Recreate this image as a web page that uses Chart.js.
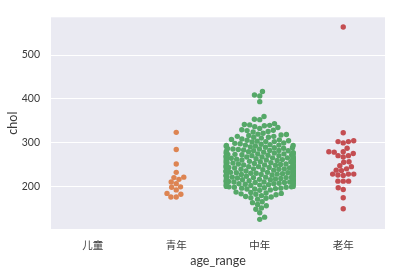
<!DOCTYPE html>
<html>
<head>
<meta charset="utf-8">
<script src="https://cdn.jsdelivr.net/npm/chart.js@4/dist/chart.umd.min.js"></script>
<style>
html,body{margin:0;padding:0;background:#fff;}
#wrap{width:397px;height:272px;position:relative;}
</style>
</head>
<body>
<div id="wrap"><canvas id="c" width="397" height="272"></canvas></div>
<script>
const categories = ['儿童', '青年', '中年', '老年'];
const childChol = [];
const youngChol = [324, 285, 252, 233, 222, 221, 217, 211, 207, 199, 200, 193, 185, 177, 177, 183];
const middleChol = [
  394, 407, 409, 417,
  353, 354, 360,
  340, 341, 342, 344,
  330, 333, 335, 337, 339,
  320, 322, 325, 326, 328, 329,
  311, 313, 315, 315, 318, 319, 313, 317,
  300, 302, 303, 304, 305, 306, 307, 308, 309, 303,
  290, 291, 293, 294, 295, 295, 297, 298, 299, 292, 294, 296,
  280, 281, 282, 283, 283, 284, 286, 286, 288, 289, 282, 285, 287, 289,
  270, 271, 271, 273, 273, 274, 274, 275, 275, 276, 277, 277, 278, 278, 279, 272, 270, 275,
  260, 261, 261, 262, 263, 263, 264, 264, 265, 266, 266, 267, 267, 268, 268, 269, 269, 260, 262, 265,
  250, 250, 252, 252, 253, 254, 254, 255, 256, 256, 257, 258, 258, 259, 250, 251, 253, 255, 257, 259,
  240, 240, 241, 242, 243, 243, 244, 245, 245, 246, 246, 247, 248, 248, 249, 249, 241, 243, 244, 246, 247, 245,
  230, 231, 231, 232, 233, 233, 234, 234, 235, 236, 236, 237, 237, 239, 239, 230, 232, 234, 235, 236, 238, 233,
  220, 221, 221, 222, 223, 224, 225, 226, 226, 227, 228, 229, 229, 220, 222, 223, 224, 225, 226, 228, 227, 222,
  210, 211, 211, 212, 212, 213, 214, 215, 216, 217, 218, 219, 210, 211, 213, 214, 215, 216, 218, 219,
  200, 201, 201, 203, 204, 204, 205, 206, 207, 208, 209, 209, 200, 203, 205, 207, 208,
  192, 193, 195, 196, 197, 197, 198, 199, 199, 195,
  180, 182, 183, 184, 185, 186, 187, 188,
  172, 174, 175, 177, 178,
  160, 164, 166,
  152, 157,
  141, 149,
  131, 126
];
const oldChol = [564, 323, 305, 303, 300, 303, 288, 276, 271, 279, 271, 280, 280, 268, 256, 257, 248, 246, 238, 237, 241, 229, 227, 226, 229, 229, 213, 213, 213, 198, 194, 175, 150];
const yTicks = [200, 300, 400, 500];
const palette = ['#4C72B0', '#DD8452', '#55A868', '#C44E52'];
const series = [childChol, youngChol, middleChol, oldChol];

const FONT = "Lato, 'Noto Sans CJK SC', sans-serif";
const TEXT = '#3a3a3a';

const bgPlugin = {
  id: 'bg',
  beforeDraw(chart) {
    const {ctx, chartArea: a} = chart;
    ctx.save();
    ctx.fillStyle = '#EAEAF2';
    ctx.fillRect(a.left, a.top, a.right - a.left, a.bottom - a.top);
    ctx.restore();
  }
};

const chart = new Chart(document.getElementById('c'), {
  type: 'scatter',
  data: {
    datasets: series.map((vals, i) => ({
      label: categories[i],
      data: vals.map(v => ({x: i, y: v})),
      backgroundColor: palette[i],
      borderWidth: 0,
      pointRadius: 2.7,
      pointHoverRadius: 2.7
    }))
  },
  options: {
    responsive: false,
    animation: false,
    layout: {padding: {top: 13, right: 12, left: 0, bottom: 0}},
    plugins: {legend: {display: false}, tooltip: {enabled: false}},
    scales: {
      x: {
        type: 'linear',
        min: -0.5, max: 3.5,
        afterBuildTicks(s) { s.ticks = categories.map((c, i) => ({value: i})); },
        afterFit(s) { s.height = 43; },
        grid: {display: false, drawTicks: false},
        border: {display: false},
        ticks: {
          callback: (v) => categories[v],
          font: {family: FONT, size: 10.5},
          color: TEXT,
          padding: 10,
          maxRotation: 0, autoSkip: false
        },
        title: {display: true, text: 'age_range', font: {family: FONT, size: 12.5}, color: TEXT, padding: {top: 0, bottom: 4}}
      },
      y: {
        min: 104, max: 586,
        afterBuildTicks(s) { s.ticks = yTicks.map(v => ({value: v})); },
        afterFit(s) { s.width = 51; },
        grid: {color: '#ffffff', lineWidth: 1.1, drawTicks: false},
        border: {display: false},
        ticks: {font: {family: FONT, size: 10.5}, color: TEXT, padding: 11},
        title: {display: true, text: 'chol', font: {family: FONT, size: 12.5}, color: TEXT, padding: {top: 5, bottom: 0}}
      }
    }
  },
  plugins: [bgPlugin]
});

// seaborn-style beeswarm placement, computed in pixel space from the scales
function beeswarm(pts, r) {
  if (!pts.length) return [];
  const mid = pts[0].x;
  const swarm = [{x: pts[0].x, y: pts[0].y, i: pts[0].i}];
  for (let k = 1; k < pts.length; k++) {
    const p = pts[k];
    const neighbors = [];
    for (let j = swarm.length - 1; j >= 0; j--) {
      if (Math.abs(p.y - swarm[j].y) < 2 * r) neighbors.push(swarm[j]); else break;
    }
    const cands = [p.x];
    let leftFirst = true;
    for (const n of neighbors) {
      const dy = p.y - n.y;
      const dx = Math.sqrt(Math.max(4 * r * r - dy * dy, 0)) * 1.05;
      if (leftFirst) cands.push(n.x - dx, n.x + dx); else cands.push(n.x + dx, n.x - dx);
      leftFirst = !leftFirst;
    }
    const order = cands.map((c, idx) => ({c, d: Math.abs(c - mid), idx})).sort((a, b) => a.d - b.d || a.idx - b.idx);
    let chosen = p.x;
    for (const o of order) {
      let ok = true;
      for (const n of neighbors) {
        const dx = n.x - o.c, dy = n.y - p.y;
        if (dx * dx + dy * dy < 4 * r * r - 1e-9) { ok = false; break; }
      }
      if (ok) { chosen = o.c; break; }
    }
    swarm.push({x: chosen, y: p.y, i: p.i});
  }
  return swarm;
}

function layoutSwarm() {
  const xs = chart.scales.x, ys = chart.scales.y;
  const unit = xs.getPixelForValue(1) - xs.getPixelForValue(0);
  const half = 0.4 * unit;
  const r = 2.55;
  chart.data.datasets.forEach((ds, ci) => {
    const vals = series[ci];
    const cx = xs.getPixelForValue(ci);
    const pts = vals.map((v, i) => ({x: cx, y: ys.getPixelForValue(v), v, i}));
    pts.sort((a, b) => a.v - b.v);
    const placed = beeswarm(pts, r);
    const out = new Array(vals.length);
    placed.forEach(p => {
      let px = p.x;
      if (px > cx + half) px = cx + half;
      if (px < cx - half) px = cx - half;
      out[p.i] = {x: xs.getValueForPixel(px), y: vals[p.i]};
    });
    ds.data = out;
  });
  chart.update('none');
}
layoutSwarm();
</script>
</body>
</html>
